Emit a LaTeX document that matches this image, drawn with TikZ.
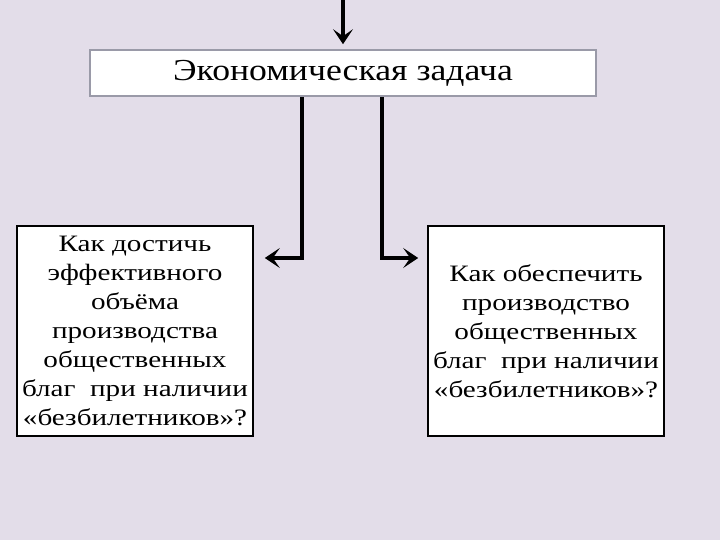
\documentclass[tikz,border=0pt]{standalone}
\usepackage{fontspec}
\setmainfont[FakeStretch=1.24]{Liberation Serif}
\newfontfamily\titlefont[FakeStretch=1.17]{Liberation Serif}
\usetikzlibrary{arrows.meta}
\definecolor{bgc}{HTML}{E3DDE9}
\definecolor{topborder}{HTML}{9A9AA8}
\tikzset{
  x=1pt,y=-1pt,
  qbox/.style={draw=black,line width=1.6pt,fill=white,inner sep=0pt,align=center,font=\fontsize{23.5}{29}\selectfont},
  conn/.style={line width=3.8pt,-{Stealth[length=15pt,width=20pt,inset=7pt]}},
}
\begin{document}
\begin{tikzpicture}
\fill[bgc] (0,0) rectangle (720,540);
\useasboundingbox (0,0) rectangle (720,540);
\node[draw=topborder,line width=1.6pt,fill=white,minimum width=506pt,minimum height=46pt,inner sep=0pt,font=\titlefont\fontsize{30.5}{34}\selectfont] (top) at (343,73) {\raisebox{-2.5pt}{Экономическая задача}};
\coordinate (src) at (343,0);
\draw[conn] (src) -- ([yshift=5pt]top.north);
\node[qbox,minimum width=236pt,minimum height=210pt] (L) at (135,331) {Как достичь\\эффективного\\объёма\\производства\\общественных\\благ\ \ при наличии\\«безбилетников»?};
\node[qbox,minimum width=236pt,minimum height=210pt] (R) at (546,331) {Как обеспечить\\производство\\общественных\\благ\ \ при наличии\\«безбилетников»?};
\coordinate (lb) at (302,258);
\coordinate (rb) at (382,258);
\draw[conn] (top.south -| lb) -- (lb) -- ([xshift=11pt]L.east |- lb);
\draw[conn] (top.south -| rb) -- (rb) -- ([xshift=-9pt]R.west |- rb);
\end{tikzpicture}
\end{document}
